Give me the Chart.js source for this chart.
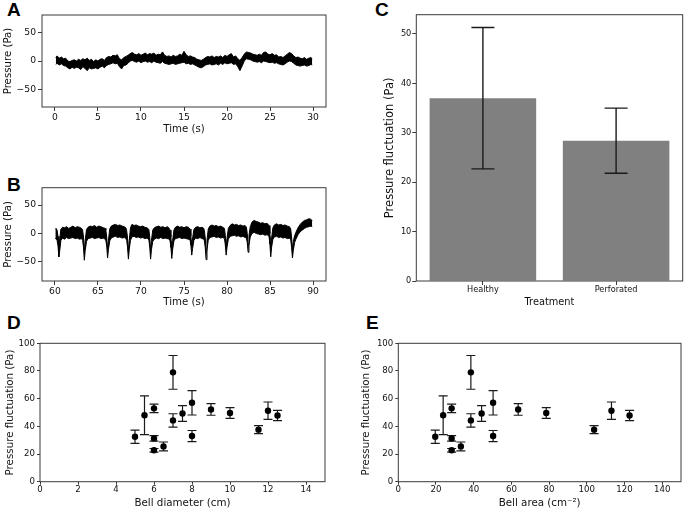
<!DOCTYPE html>
<html><head><meta charset="utf-8">
<script src="https://cdn.jsdelivr.net/npm/chart.js@4.4.0/dist/chart.umd.min.js"></script>
<style>
html,body{margin:0;padding:0;background:#fff}
body{width:685px;height:513px;overflow:hidden;position:relative}
canvas{position:absolute}
.lab{position:absolute;font-weight:bold;font-size:19px;font-family:"Liberation Sans",Arial,sans-serif;line-height:1;color:#000}
</style></head><body>
<div class="lab" style="left:7px;top:0px">A</div>
<div class="lab" style="left:7px;top:175px">B</div>
<div class="lab" style="left:375px;top:0px">C</div>
<div class="lab" style="left:7px;top:313px">D</div>
<div class="lab" style="left:366px;top:313px">E</div>
<canvas id="cA" width="340" height="140" style="left:0;top:0"></canvas>
<canvas id="cB" width="340" height="140" style="left:0;top:170px"></canvas>
<canvas id="cC" width="345" height="315" style="left:340px;top:0"></canvas>
<canvas id="cD" width="340" height="203" style="left:0;top:310px"></canvas>
<canvas id="cE" width="345" height="203" style="left:340px;top:310px"></canvas>
<script>
// ---------------- DATA ----------------
// Panel A: healthy recording, band envelope (upper / lower edge of the noisy trace)
const timeA = [0.1,0.25,0.5,0.75, 1,1.25,1.5,1.75, 2,2.25,2.5,2.75, 3,3.25,3.5,3.75, 4,4.25,4.5,4.75,
  5,5.25,5.5,5.75, 6,6.25,6.5,6.75, 7,7.25,7.5,7.75, 8,8.25,8.5,8.75, 9,9.25,9.5,9.75,
  10,10.25,10.5,10.75, 11,11.25,11.5,11.75, 12,12.25,12.5,12.75, 13,13.25,13.5,13.75, 14,14.25,14.5,14.75,
  15,15.25,15.5,15.75, 16,16.25,16.5,16.75, 17,17.25,17.5,17.75, 18,18.25,18.5,18.75, 19,19.25,19.5,19.75,
  20,20.25,20.5,20.75, 21,21.25,21.5,21.75, 22,22.25,22.5,22.75, 23,23.25,23.5,23.75, 24,24.25,24.5,24.75,
  25,25.25,25.5,25.75, 26,26.25,26.5,26.75, 27,27.25,27.5,27.75, 28,28.25,28.5,28.75, 29,29.25,29.5,29.75, 29.9];
const upperA = [6,9,5,7, 4,5,0,-1, 1,2,0,3, 1,4,2,5, 1,3,-1,2,
  0,3,4,1, 6,8,7,10, 9,11,4,2, 6,8,10,13, 15,12,11,13,
  10,12,14,11, 13,12,14,10, 12,11,16,10, 8,9,7,10, 8,9,12,10,
  17,11,8,9, 7,6,3,2, 1,3,6,8, 7,9,6,8, 7,9,6,10,
  8,11,13,7, 9,4,1,6, 12,16,15,14, 12,11,10,12, 10,15,16,12,
  11,13,10,11, 7,8,6,9, 12,15,13,9, 6,7,5,4, 6,3,5,6, 4];
const lowerA = [-6,-4,-7,-5, -8,-9,-12,-14, -11,-13,-11,-12, -15,-10,-13,-17, -12,-14,-13,-12,
  -14,-11,-9,-12, -8,-6,-5,-3, -5,-4,-10,-14, -8,-7,-4,0, 1,-1,-2,0,
  -3,-1,0,-2, -1,-3,0,-2, -3,-4,-1,-4, -5,-6,-5,-4, -6,-5,-4,-3,
  -2,-5,-4,-6, -5,-7,-9,-11, -12,-10,-7,-6, -5,-7,-6,-5, -7,-4,-6,-3,
  -5,-4,-3,-6, -5,-10,-17,-9, 0,4,3,2, 0,-1,-2,-1, -3,0,-1,-2,
  -3,-2,-4,-3, -5,-6,-7,-5, -2,0,-1,-4, -7,-8,-9,-8, -7,-9,-8,-6, -7];

// Panel B: perforated recording, band envelope with periodic dips
const timeB = [60.05,60.15,60.25,60.36,60.46,60.56,60.7,
  60.9,61.1,61.35,61.6,61.85,62.1,62.35,62.6,62.85,63.1,63.22,63.32,63.42,63.52,63.67,
  63.85,64.1,64.35,64.6,64.85,65.1,65.35,65.6,65.85,65.92,66.02,66.12,66.22,66.37,
  66.55,66.8,67.05,67.3,67.55,67.8,68.05,68.25,68.34,68.44,68.54,68.64,68.78,
  68.95,69.2,69.45,69.7,69.95,70.2,70.45,70.7,70.92,71.02,71.12,71.22,71.37,
  71.55,71.8,72.05,72.3,72.55,72.8,73.05,73.3,73.38,73.48,73.58,73.68,73.83,
  74.0,74.25,74.5,74.75,75.0,75.25,75.5,75.7,75.8,75.9,76.0,76.15,
  76.35,76.6,76.85,77.1,77.3,77.37,77.47,77.57,77.67,77.82,
  78.0,78.25,78.5,78.75,79.0,79.25,79.5,79.7,79.8,79.9,80.0,80.15,
  80.35,80.6,80.85,81.1,81.35,81.6,81.85,82.1,82.25,82.35,82.45,82.55,82.7,
  82.9,83.15,83.4,83.65,83.9,84.15,84.4,84.65,84.88,84.98,85.08,85.18,85.33,
  85.5,85.75,86.0,86.25,86.5,86.75,87.0,87.25,87.4,87.5,87.6,87.7,87.85,
  88.0,88.25,88.5,88.75,89.0,89.25,89.5,89.75,89.9];
const upperB = [8,9,6,-5,-28,-10,8,
  11,10,12,9,11,13,10,12,11,9,6,-6,-30,-12,7,
  11,13,12,14,11,13,12,10,9,6,-6,-28,-12,8,
  13,15,16,14,15,13,12,10,5,-8,-30,-12,10,
  16,14,15,13,12,13,11,10,7,-6,-30,-12,6,
  10,12,13,11,12,10,12,9,6,-6,-30,-12,6,
  11,13,11,12,10,12,11,8,-4,-24,-8,7,
  11,12,10,11,9,5,-8,-30,-12,8,
  13,15,13,14,12,13,11,9,-3,-24,-8,9,
  14,17,15,16,14,15,13,14,11,0,-20,-4,12,
  20,23,21,20,18,19,17,18,14,0,-26,-8,10,
  15,17,15,16,14,15,13,12,8,-6,-28,-14,-4,
  2,10,16,20,23,24,26,25,22];
const lowerB = [-8,-10,-12,-22,-41,-30,-12,
  -8,-10,-7,-9,-8,-7,-9,-8,-10,-9,-12,-24,-47,-30,-14,
  -9,-8,-7,-9,-8,-7,-9,-8,-10,-12,-22,-43,-28,-13,
  -8,-6,-5,-7,-6,-8,-7,-9,-12,-24,-45,-28,-12,
  -6,-5,-7,-6,-8,-7,-9,-8,-11,-24,-45,-28,-14,
  -10,-8,-9,-7,-9,-8,-9,-10,-13,-24,-44,-28,-13,
  -9,-8,-7,-9,-8,-9,-10,-11,-20,-38,-26,-12,
  -8,-9,-7,-9,-10,-13,-25,-46,-28,-12,
  -7,-6,-5,-7,-6,-8,-7,-9,-20,-38,-24,-10,
  -5,-4,-3,-5,-4,-6,-5,-7,-8,-16,-33,-20,-6,
  0,2,0,-1,-2,-1,-3,-2,-5,-18,-41,-24,-10,
  -6,-5,-7,-6,-8,-7,-9,-8,-11,-24,-43,-30,-16,
  -10,-2,3,6,9,11,12,13,12];

const ticksTimeA = [0,5,10,15,20,25,30];
const ticksTimeB = [60,65,70,75,80,85,90];
const ticksPressure = [-50,0,50];

// Panel C
const treatments = ['Healthy','Perforated'];
const meanFluct = [37.0, 28.4];
const errFluct = [14.3, 6.6];
const ticksC = [0,10,20,30,40,50];

// Panels D & E (same specimens)
const bellDiameter = [5, 5.5, 6, 6, 6, 6.5, 7, 7, 7.5, 8, 8, 9, 10, 11.5, 12, 12.5];
const bellArea = [19.6, 23.8, 28.3, 28.3, 28.3, 33.2, 38.5, 38.5, 44.2, 50.3, 50.3, 63.6, 78.5, 103.9, 113.1, 122.7];
const fluct = [32.5, 48, 53, 31.3, 22.7, 25.5, 79, 44.3, 49.3, 57, 33, 52.2, 49.6, 37.6, 51.3, 47.8];
const fluctErr = [4.8, 14, 3.1, 2, 1.3, 3.2, 12.2, 4.8, 5.7, 8.8, 4, 4.2, 3.9, 2.9, 6.3, 3.7];
const ticksD = [0,2,4,6,8,10,12,14];
const ticksE = [0,20,40,60,80,100,120,140];
const ticksDEy = [0,20,40,60,80,100];

// ---------------- STYLE / HELPERS ----------------
const INK = '#111';
const SPINE = '#3a3a3a';
Chart.defaults.font.family = 'DejaVu Sans';
Chart.defaults.color = INK;
Chart.defaults.animation = false;
Chart.defaults.plugins.legend.display = false;
Chart.defaults.plugins.tooltip.enabled = false;

const framePlugin = { id:'frame', afterDraw(chart){
  const a = chart.chartArea, c = chart.ctx;
  c.save(); c.strokeStyle = SPINE; c.lineWidth = 1;
  c.strokeRect(a.left, a.top, a.right - a.left, a.bottom - a.top);
  c.restore();
}};

function minusFmt(v){ return v < 0 ? '\u2212' + Math.abs(v) : String(v); }

function axis(o){
  const s = {
    type: o.type || 'linear', position: o.pos,
    grid: {display:true, drawOnChartArea:false, drawTicks:true, tickLength:o.tl, tickWidth:1, tickColor:SPINE, offset:false},
    border: {display:false},
    ticks: {padding:o.pad, font:{size:o.fs}, color:INK, maxRotation:0, autoSkip:false},
    title: {display:true, text:o.title, font:{size:o.tfs}, color:INK, padding:o.tpad},
    afterFit: (sc) => { if (o.pos === 'left') sc.width = o.size; else sc.height = o.size; }
  };
  if (o.type !== 'category') {
    s.min = o.min; s.max = o.max;
    s.afterBuildTicks = (sc) => { sc.ticks = o.ticks.map(v => ({value:v})); };
  }
  if (o.fmt) s.ticks.callback = o.fmt;
  return s;
}

function errorBars(xs, ys, errs, capHalf, lw, before){
  const draw = (chart) => {
    const c = chart.ctx, xS = chart.scales.x, yS = chart.scales.y;
    c.save(); c.strokeStyle = '#1a1a1a'; c.lineWidth = lw;
    for (let i = 0; i < ys.length; i++){
      const px = xS.getPixelForValue(xs[i]);
      const pt = yS.getPixelForValue(ys[i] + errs[i]);
      const pb = yS.getPixelForValue(ys[i] - errs[i]);
      c.beginPath();
      c.moveTo(px, pt); c.lineTo(px, pb);
      c.moveTo(px - capHalf, pt); c.lineTo(px + capHalf, pt);
      c.moveTo(px - capHalf, pb); c.lineTo(px + capHalf, pb);
      c.stroke();
    }
    c.restore();
  };
  return before ? {id:'eb', beforeDatasetsDraw: draw} : {id:'eb', afterDatasetsDraw: draw};
}

function timeSeries(id, t, hi, lo, xmin, xmax, xticks, ymin, ymax, pad, xh, xtpad){
  new Chart(document.getElementById(id), {
    type: 'line',
    data: { datasets: [
      { data: t.map((x,i) => ({x, y: hi[i]})), fill: '+1', backgroundColor: '#000', borderColor: '#000', borderWidth: 1, pointRadius: 0, tension: 0 },
      { data: t.map((x,i) => ({x, y: lo[i]})), fill: false, borderColor: '#000', borderWidth: 1, pointRadius: 0, tension: 0 }
    ]},
    options: {
      responsive: false, devicePixelRatio: 1,
      layout: { padding: pad },
      scales: {
        x: axis({pos:'bottom', min:xmin, max:xmax, ticks:xticks, size:xh, tl:4, pad:1, fs:9.2, title:'Time (s)', tfs:10.2, tpad:{top:0,bottom:xtpad}}),
        y: axis({pos:'left', min:ymin, max:ymax, ticks:ticksPressure, size:42, tl:4, pad:2, fs:9.2, title:'Pressure (Pa)', tfs:10.2, tpad:{top:2,bottom:0}, fmt:minusFmt})
      }
    },
    plugins: [framePlugin]
  });
}

// ---------------- PANELS A, B ----------------
timeSeries('cA', timeA, upperA, lowerA, -1.5, 31.5, ticksTimeA, -81, 81, {left:0, top:15, right:14, bottom:0}, 33, 5);
timeSeries('cB', timeB, upperB, lowerB, 58.5, 91.5, ticksTimeB, -83.5, 80.5, {left:0, top:17.7, right:14, bottom:0}, 29, 2);

// ---------------- PANEL C ----------------
new Chart(document.getElementById('cC'), {
  type: 'bar',
  data: { labels: treatments, datasets: [{ data: meanFluct, backgroundColor: '#808080', categoryPercentage: 1, barPercentage: 0.8 }] },
  options: {
    responsive: false, devicePixelRatio: 1,
    layout: { padding: {left:0, top:14.7, right:2.3, bottom:0} },
    scales: {
      x: axis({type:'category', pos:'bottom', size:34, tl:4, pad:0, fs:8.2, title:'Treatment', tfs:9.8, tpad:{top:0,bottom:6.3}}),
      y: axis({pos:'left', min:0, max:53.9, ticks:ticksC, size:76.3, tl:4, pad:1, fs:8.2, title:'Pressure fluctuation (Pa)', tfs:11.5, tpad:{top:43,bottom:0}})
    }
  },
  plugins: [framePlugin, errorBars([0,1], meanFluct, errFluct, 11.5, 1.4, false)]
});

// ---------------- PANELS D, E ----------------
function scatterPanel(id, xs, xmin, xmax, xticks, xtitle, pad, ytitlePad){
  new Chart(document.getElementById(id), {
    type: 'scatter',
    data: { datasets: [{ data: xs.map((x,i) => ({x, y: fluct[i]})), pointRadius: 3.2, backgroundColor: '#000', borderColor: '#000', borderWidth: 0 }] },
    options: {
      responsive: false, devicePixelRatio: 1,
      layout: { padding: pad },
      scales: {
        x: axis({pos:'bottom', min:xmin, max:xmax, ticks:xticks, size:31.3, tl:3, pad:0, fs:8.6, title:xtitle, tfs:10.3, tpad:{top:0,bottom:3.5}}),
        y: axis({pos:'left', min:0, max:100, ticks:ticksDEy, size:pad.yw, tl:3, pad:2, fs:8.6, title:'Pressure fluctuation (Pa)', tfs:10.3, tpad:{top:ytitlePad,bottom:0}})
      }
    },
    plugins: [framePlugin, errorBars(xs, fluct, fluctErr, 4.5, 1.2, true)]
  });
}
scatterPanel('cD', bellDiameter, 0, 15, ticksD, 'Bell diameter (cm)', {left:0, top:33.3, right:15, bottom:0, yw:40}, 3.8);
scatterPanel('cE', bellArea, 0, 150, ticksE, 'Bell area (cm\u207B\u00B2)', {left:0, top:33.3, right:1.7, bottom:0, yw:58.3}, 19.8);
</script>
</body></html>
